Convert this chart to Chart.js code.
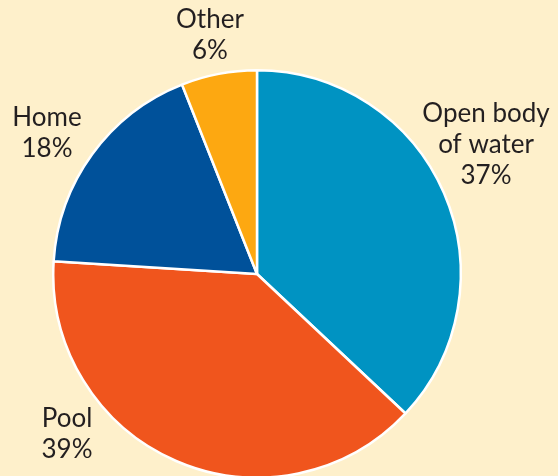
<!DOCTYPE html>
<html>
<head>
<meta charset="utf-8">
<script src="https://cdn.jsdelivr.net/npm/chart.js@4/dist/chart.umd.min.js"></script>
<style>
html,body{margin:0;padding:0;background:#FEF0CB;overflow:hidden;}
#wrap{width:558px;height:476px;position:relative;overflow:hidden;}
</style>
</head>
<body>
<div id="wrap"><canvas id="c" width="558" height="480"></canvas></div>
<script>
const categories = ["Open body of water", "Pool", "Home", "Other"];
const values = [37, 39, 18, 6];
const labelLines = [["Open body", "of water", "37%"], ["Pool", "39%"], ["Home", "18%"], ["Other", "6%"]];
const colors = ["#0093C2", "#F0551D", "#00519A", "#FDA811"];

const labelPos = [[486, 114], [67, 419], [47, 118], [210, 20]];

const labelPlugin = {
  id: "pieLabels",
  afterDraw(chart) {
    const ctx = chart.ctx;
    ctx.save();
    ctx.fillStyle = "#231F20";
    ctx.font = "400 26px Lato";
    ctx.textAlign = "center";
    ctx.textBaseline = "middle";
    labelLines.forEach((lines, i) => {
      const [x, y] = labelPos[i];
      lines.forEach((t, j) => ctx.fillText(t, x, y + j * 31));
    });
    ctx.restore();
  }
};

new Chart(document.getElementById("c"), {
  type: "pie",
  data: {
    labels: categories,
    datasets: [{
      data: values,
      backgroundColor: colors,
      borderColor: "#FFFFFF",
      borderWidth: 2.5
    }]
  },
  options: {
    responsive: false,
    animation: false,
    layout: { padding: { left: 52, right: 96, top: 69, bottom: 1 } },
    plugins: { legend: { display: false }, tooltip: { enabled: false } }
  },
  plugins: [labelPlugin]
});
</script>
</body>
</html>
